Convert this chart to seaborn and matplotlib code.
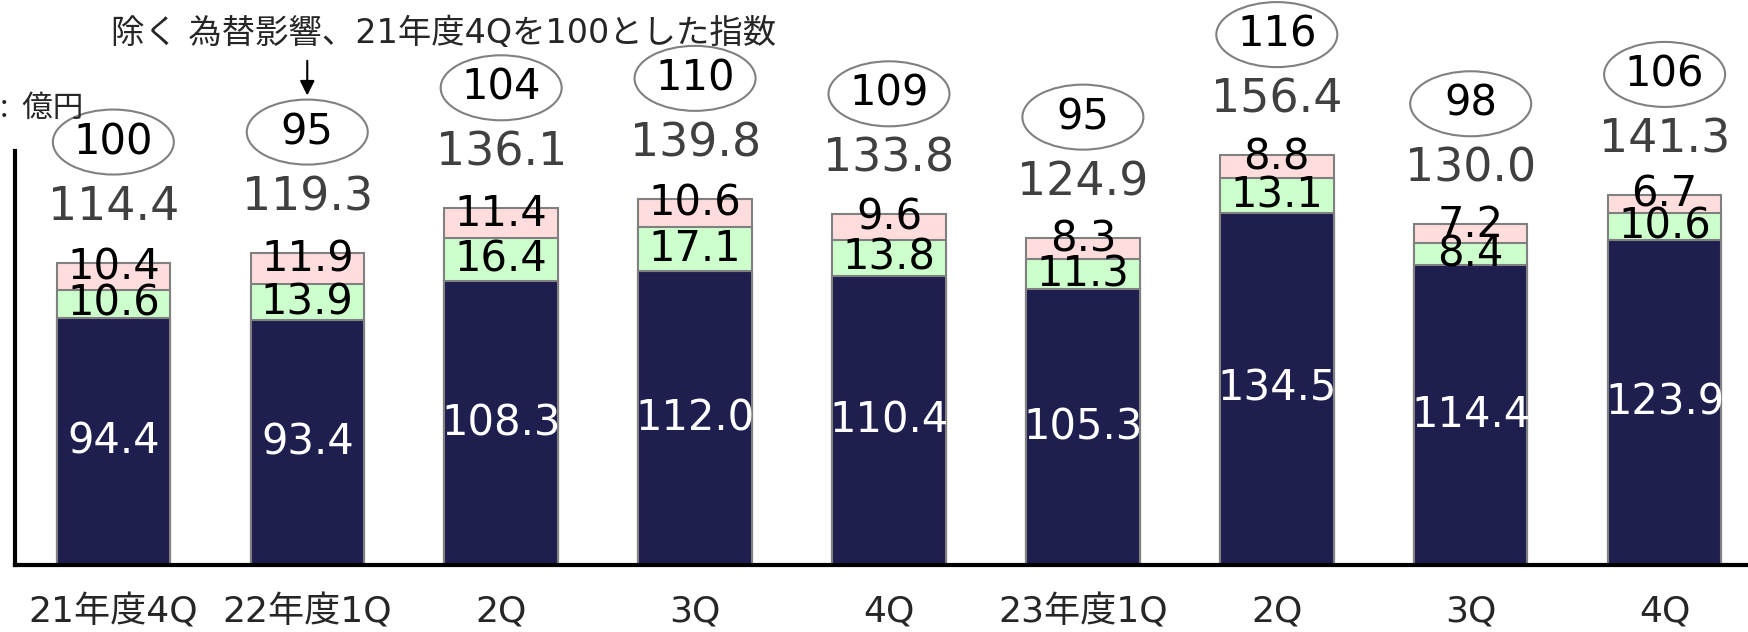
import matplotlib
matplotlib.use("Agg")
import matplotlib.pyplot as plt
from matplotlib.patches import Ellipse
import numpy as np
import pandas as pd
import seaborn as sns

# ---- data ----
tick_labels = ["21年度4Q", "22年度1Q", "2Q", "3Q", "4Q", "23年度1Q", "2Q", "3Q", "4Q"]
base_vals = [94.4, 93.4, 108.3, 112.0, 110.4, 105.3, 134.5, 114.4, 123.9]
green_vals = [10.6, 13.9, 16.4, 17.1, 13.8, 11.3, 13.1, 8.4, 10.6]
pink_vals = [10.4, 11.9, 11.4, 10.6, 9.6, 8.3, 8.8, 7.2, 6.7]
total_labels = ["114.4", "119.3", "136.1", "139.8", "133.8", "124.9", "156.4", "130.0", "141.3"]
index_vals = [100, 95, 104, 110, 109, 95, 116, 98, 106]

NAVY = "#1F1F4F"
GREEN = "#CCFFCC"
PINK = "#FFDDDD"
EDGE = "#808080"

sns.set_theme(style="white")
plt.rcParams["font.family"] = ["DejaVu Sans", "Noto Sans CJK JP"]

df = pd.DataFrame({
    "pos": np.arange(len(tick_labels)),
    "base": base_vals,
    "green": green_vals,
    "pink": pink_vals,
})
df["mid"] = df["base"] + df["green"]
df["top"] = df["mid"] + df["pink"]

fig = plt.figure(figsize=(17.48, 6.32), dpi=100)
ax = fig.add_axes([0.0086, 0.106, 0.9914, 0.894])

bw = 0.585
common = dict(x="pos", edgecolor=EDGE, linewidth=1.5, width=bw, saturation=1,
              errorbar=None, ax=ax, zorder=2)
sns.barplot(data=df, y="top", color=PINK, **common)
sns.barplot(data=df, y="mid", color=GREEN, **common)
sns.barplot(data=df, y="base", color=NAVY, **common)

ymax = 215.6
ax.set_ylim(0, ymax)
ax.set_xlim(-0.507, 8.43)

lab_fs = 30
for i, r in df.iterrows():
    ax.text(i, r["base"] / 2, f"{r['base']:.1f}", ha="center", va="center",
            color="white", fontsize=lab_fs, zorder=5)
    ax.text(i, r["base"] + r["green"] / 2, f"{r['green']:.1f}", ha="center", va="center",
            color="black", fontsize=lab_fs, zorder=5)
    ax.text(i, r["mid"] + r["pink"] / 2 + 3.5, f"{r['pink']:.1f}", ha="center", va="center",
            color="black", fontsize=lab_fs, zorder=5)
    ax.text(i, r["top"] + 21, total_labels[i], ha="center", va="center",
            color="#404040", fontsize=33, zorder=5)
    ecy = r["top"] + 46
    ax.add_patch(Ellipse((i, ecy), width=0.624, height=24.8, facecolor="white",
                         edgecolor=EDGE, linewidth=1.5, zorder=4, clip_on=False))
    ax.text(i, ecy, str(index_vals[i]), ha="center", va="center",
            color="black", fontsize=lab_fs, zorder=6)

# arrow from the note to the second index ellipse
arrow_tip = df.loc[1, "top"] + 46 + 24.8 / 2 + 0.5
ax.annotate("", xy=(1, arrow_tip), xytext=(0, 29), textcoords="offset points",
            arrowprops=dict(arrowstyle="-|>", color="black", lw=1.5, mutation_scale=22),
            annotation_clip=False)

fig.text(0.254, 0.947, "除く 為替影響、21年度4Qを100とした指数", ha="center", va="center",
         fontsize=24, family=["DejaVu Sans", "Noto Sans CJK JP"])
fig.text(0.0, 0.829, ":  億円", ha="left", va="center", fontsize=22,
         family=["Noto Sans CJK JP", "DejaVu Sans"])

# axes styling
for s in ["top", "right"]:
    ax.spines[s].set_visible(False)
ax.spines["left"].set_linewidth(3)
ax.spines["left"].set_color("black")
ax.spines["left"].set_bounds(0, 158)
ax.spines["bottom"].set_linewidth(3)
ax.spines["bottom"].set_color("black")
ax.set_yticks([])
ax.set_xticks(range(len(tick_labels)))
ax.set_xticklabels(tick_labels, fontsize=26)
ax.tick_params(axis="x", length=0, pad=21)
ax.set_xlabel("")
ax.set_ylabel("")

fig.savefig("out.png", dpi=100)
